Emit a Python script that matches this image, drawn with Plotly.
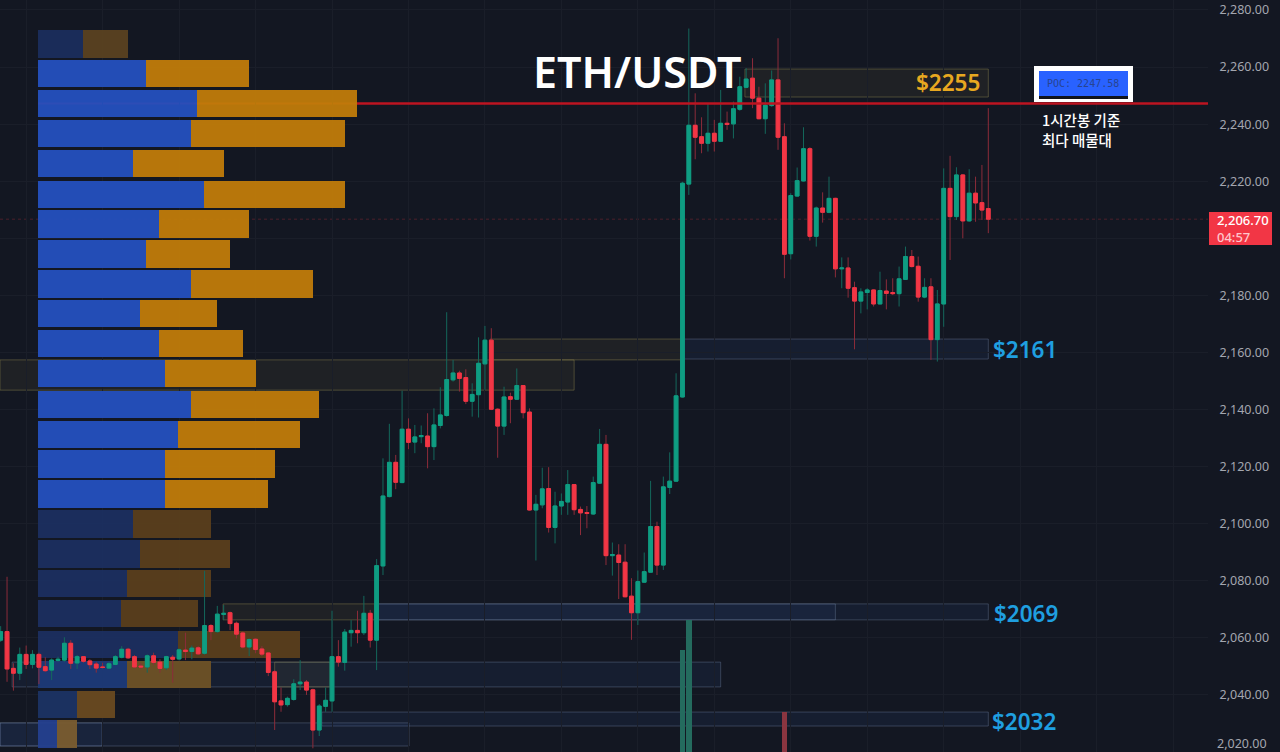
import plotly.graph_objects as go

# 1h candles, oldest first
opens = [2059.2,2062.2,2049.3,2047.6,2054.2,2050.7,2054.2,2049.9,2048.7,2052.1,
         2052.2,2058.1,2051.2,2053.4,2051.9,2050.8,2049.8,2049.4,2050.7,2053.2,
         2056.0,2053.4,2050.1,2049.8,2053.7,2051.5,2049.5,2053.2,2052.6,2055.7,
         2055.2,2056.5,2054.6,2064.3,2062.2,2068.2,2068.8,2065.1,2061.7,2056.8,
         2059.5,2056.1,2054.7,2048.1,2037.9,2036.6,2038.4,2043.9,2044.5,2041.8,
         2027.7,2036.0,2037.9,2053.4,2051.4,2061.8,2062.6,2061.8,2068.6,2059.2,
         2085.2,2109.5,2121.5,2114.4,2133.1,2128.6,2130.5,2130.7,2127.0,2134.4,
         2137.9,2150.4,2152.8,2151.2,2142.9,2145.2,2156.0,2164.3,2140.1,2134.2,
         2144.5,2143.6,2148.4,2139.1,2104.8,2106.6,2112.3,2098.7,2106.2,2107.6,
         2113.7,2105.0,2103.9,2103.4,2114.2,2127.8,2088.8,2089.0,2086.5,2074.6,
         2068.8,2079.5,2083.0,2099.0,2085.5,2112.7,2114.9,2144.4,2219.0,2239.6,
         2235.6,2233.3,2236.8,2234.0,2240.3,2240.1,2245.2,2252.9,2256.1,2249.1,
         2241.9,2246.5,2255.5,2235.6,2194.6,2214.8,2220.1,2231.4,2200.7,2210.6,
         2209.1,2214.0,2189.3,2189.6,2182.7,2178.0,2181.0,2181.9,2177.0,2181.5,
         2181.0,2180.6,2185.6,2193.6,2190.2,2179.4,2183.0,2164.5,2177.0,2217.5,
         2207.6,2222.2,2206.1,2215.8,2212.5,2210.4]
highs = [2064.1,2081.4,2051.1,2056.6,2057.3,2055.7,2054.8,2053.2,2052.8,2053.4,
         2060.2,2059.2,2054.0,2053.6,2052.5,2051.6,2051.3,2051.6,2054.0,2057.1,
         2056.5,2054.0,2051.1,2054.2,2054.8,2052.5,2053.7,2054.0,2056.3,2061.8,
         2057.3,2057.1,2083.5,2064.8,2071.2,2071.5,2069.2,2065.7,2062.2,2059.8,
         2059.8,2057.1,2054.9,2048.7,2042.6,2039.4,2045.5,2052.2,2045.2,2042.2,
         2036.8,2042.6,2069.5,2059.2,2063.1,2066.2,2069.5,2074.7,2069.8,2087.6,
         2122.9,2135.0,2124.1,2146.6,2136.9,2134.6,2134.4,2138.7,2140.4,2147.8,
         2174.1,2157.4,2153.6,2154.1,2149.2,2165.3,2169.3,2168.5,2140.4,2148.0,
         2145.9,2154.4,2148.6,2140.4,2110.1,2119.6,2119.8,2111.2,2110.6,2118.8,
         2113.9,2106.0,2106.2,2116.5,2133.2,2131.1,2093.4,2092.8,2092.8,2080.9,
         2083.6,2089.9,2115.0,2100.7,2116.5,2125.0,2152.7,2219.8,2273.5,2250.8,
         2242.4,2247.1,2241.5,2252.0,2244.4,2247.9,2256.6,2259.6,2263.1,2253.1,
         2254.3,2258.8,2270.1,2240.3,2215.8,2224.8,2238.9,2231.9,2211.1,2216.1,
         2221.6,2214.2,2193.3,2193.3,2184.8,2182.5,2182.5,2182.1,2188.3,2185.6,
         2186.0,2190.1,2197.1,2195.9,2193.6,2186.0,2186.0,2181.9,2224.5,2228.9,
         2224.9,2222.5,2224.2,2221.6,2225.7,2245.6]
lows = [2058.6,2044.6,2041.5,2045.2,2049.1,2049.3,2043.8,2048.1,2045.2,2051.6,
        2051.6,2049.1,2049.1,2051.3,2049.1,2047.8,2049.3,2049.2,2050.4,2052.8,
        2052.6,2049.3,2049.1,2047.8,2050.5,2047.8,2048.7,2044.3,2052.1,2052.2,
        2052.5,2054.0,2054.1,2059.2,2061.8,2066.2,2062.7,2059.8,2056.3,2053.6,
        2054.6,2053.6,2046.6,2027.7,2034.1,2035.9,2038.0,2041.7,2040.0,2021.3,
        2025.6,2034.1,2034.1,2049.9,2048.5,2056.9,2058.1,2061.0,2056.6,2048.7,
        2082.0,2109.2,2112.1,2114.2,2126.1,2124.7,2128.2,2119.4,2122.3,2133.4,
        2137.5,2149.8,2146.3,2141.9,2137.5,2137.2,2146.9,2139.8,2123.1,2131.1,
        2135.2,2143.4,2136.9,2104.6,2087.1,2105.4,2096.9,2093.1,2103.1,2103.1,
        2103.1,2096.0,2098.4,2103.1,2113.9,2085.5,2081.8,2073.6,2074.2,2059.3,
        2064.5,2079.3,2082.9,2082.0,2083.8,2110.4,2114.6,2144.2,2215.2,2227.7,
        2229.8,2230.4,2230.4,2233.9,2238.0,2235.0,2244.7,2252.6,2245.6,2241.7,
        2236.6,2246.1,2231.0,2186.0,2192.6,2214.6,2219.9,2199.2,2197.1,2205.5,
        2208.8,2186.3,2182.5,2179.2,2161.1,2173.7,2175.1,2176.1,2176.9,2175.1,
        2180.1,2176.1,2185.4,2189.8,2177.8,2179.0,2157.4,2156.8,2169.0,2192.4,
        2206.4,2200.0,2205.8,2205.8,2206.4,2201.8]
closes = [2062.2,2049.1,2047.6,2054.2,2050.7,2054.2,2049.7,2048.5,2052.2,2052.5,
          2058.1,2051.1,2053.4,2051.8,2050.6,2049.4,2049.6,2050.9,2053.4,2056.0,
          2053.0,2049.8,2049.8,2053.7,2051.4,2049.3,2053.4,2052.5,2055.8,2055.2,
          2056.4,2054.4,2064.3,2062.2,2068.3,2068.6,2065.0,2061.3,2056.8,2059.4,
          2055.9,2054.3,2047.9,2037.6,2036.5,2038.8,2043.9,2044.5,2041.7,2027.7,
          2036.1,2038.1,2053.4,2051.5,2062.0,2062.6,2061.8,2068.6,2059.2,2085.3,
          2109.7,2121.5,2114.5,2133.1,2128.5,2130.4,2130.9,2127.0,2134.6,2138.1,
          2150.5,2152.8,2150.9,2142.9,2145.3,2156.2,2164.3,2140.1,2134.2,2144.4,
          2143.6,2148.4,2138.9,2104.8,2106.8,2112.2,2098.7,2106.2,2107.8,2113.7,
          2104.9,2103.8,2103.6,2114.4,2127.8,2088.8,2089.2,2086.4,2074.4,2068.8,
          2079.7,2083.2,2099.0,2085.5,2112.9,2114.9,2144.8,2219.3,2239.6,2235.4,
          2233.3,2236.8,2234.0,2240.3,2239.9,2245.4,2253.1,2255.8,2249.1,2241.9,
          2246.6,2255.5,2235.4,2194.4,2215.0,2220.2,2231.4,2200.7,2210.6,2209.1,
          2214.0,2189.3,2189.6,2182.5,2178.0,2181.2,2181.9,2177.0,2181.7,2180.7,
          2180.6,2185.8,2193.6,2190.1,2179.4,2182.8,2164.5,2177.0,2217.5,2207.6,
          2222.2,2206.1,2215.8,2212.4,2209.9,2206.7]
candle_idx = list(range(len(opens)))

# volume profile rows, top to bottom
row_price = [2268.1,2257.6,2247.1,2236.6,2226.1,2215.5,2205.0,2194.5,2184.0,2173.5,2163.0,2152.5,
             2141.9,2131.4,2120.9,2110.4,2099.9,2089.4,2078.9,2068.4,2057.8,2047.3,2036.8,2026.3]
buy_vol = [45,108,159,153,95,166,121,108,153,102,121,127,153,140,127,127,95,102,89,83,140,89,39,19]
sell_vol = [45,103,160,154,91,141,90,84,122,77,84,91,128,122,110,103,78,90,84,77,122,84,38,20]
buy_col = ["#1b2e5c"]+["#2450be"]*15+["#1c2f60"]*4+["#1c2f60","#1d3a78","#1c3364","#24408f"]
sell_col = ["#5a4220"]+["#c07c0a"]*15+["#5a3f1c"]*4+["#5a3f1c","#6e5226","#6a4a20","#7a5c30"]

# zones: first bar, last bar, top, bottom
zone_start = [116.8,-0.1,76.8,107.1,34.9,58.7,58.7,1.8,43.0,50.4,-0.1,-0.1]
zone_end = [155,90,107.1,155,58.7,155,131,113,51.7,155,64.1,15.9]
zone_top = [2259.3,2157.4,2164.7,2164.7,2071.9,2071.9,2071.9,2051.5,2051.5,2034.0,2030.2,2030.2]
zone_bot = [2249.5,2146.8,2157.4,2157.7,2066.3,2066.3,2066.3,2042.8,2042.8,2029.1,2022.1,2022.1]
zone_kind = ["o","o","o","b","o","b","b","b","o","b","b","b"]

poc_price = 2247.2
last_price = 2206.7

# the few volume bars tall enough to show
vol_idx = [107,108,123]
vol_val = [102,132,40]
vol_col = ["#246b5e","#246b5e","#8a3540"]

y_ticks = list(range(2040,2281,20))

BG = "#131722"
GRID = "#1a1e29"
UP = "#0f9d82"
DOWN = "#f23645"
W = 1280
H = 752

body_hi = [max(a,b) for a,b in zip(opens,closes)]
body_lo = [min(a,b) for a,b in zip(opens,closes)]

fig = go.Figure()
fig.add_trace(go.Bar(y=row_price, x=buy_vol, orientation="h", width=9.5,
                     marker=dict(color=buy_col, line=dict(width=0)), opacity=0.95))
fig.add_trace(go.Bar(y=row_price, x=sell_vol, orientation="h", width=9.5,
                     marker=dict(color=sell_col, line=dict(width=0)), opacity=0.95))
fig.add_trace(go.Bar(x=vol_idx, y=vol_val, xaxis="x2", yaxis="y2", width=0.86,
                     marker=dict(color=vol_col, line=dict(width=0))))
# wicks are dimmer than the bodies, so two candle traces
fig.add_trace(go.Candlestick(x=candle_idx, open=opens, high=highs, low=lows, close=closes,
                             xaxis="x2", yaxis="y", whiskerwidth=0,
                             increasing=dict(line=dict(color="#14685c", width=1), fillcolor="rgba(0,0,0,0)"),
                             decreasing=dict(line=dict(color="#8c2c3a", width=1), fillcolor="rgba(0,0,0,0)")))
fig.add_trace(go.Candlestick(x=candle_idx, open=opens, high=body_hi, low=body_lo, close=closes,
                             xaxis="x2", yaxis="y", whiskerwidth=0,
                             increasing=dict(line=dict(color=UP, width=1), fillcolor=UP),
                             decreasing=dict(line=dict(color=DOWN, width=1), fillcolor=DOWN)))

for i in range(len(zone_start)):
    if zone_kind[i] == "o":
        fill = "rgba(140,130,70,0.1)"
        edge = "rgba(150,140,80,0.42)"
    else:
        fill = "rgba(60,110,200,0.085)"
        edge = "rgba(125,145,175,0.34)"
    fig.add_shape(type="rect", xref="x2", yref="y", x0=zone_start[i], x1=zone_end[i],
                  y0=zone_bot[i], y1=zone_top[i], fillcolor=fill, line=dict(color=edge, width=1),
                  layer="below")

fig.add_shape(type="line", xref="x", yref="y", x0=0, x1=buy_vol[2]+sell_vol[2], y0=poc_price, y1=poc_price,
              line=dict(color="#d81f2c", width=2), layer="below")
fig.add_shape(type="line", xref="x", yref="y", x0=buy_vol[2]+sell_vol[2], x1=1170, y0=poc_price, y1=poc_price,
              line=dict(color="#bd1421", width=2.5))
fig.add_shape(type="line", xref="x", yref="y", x0=-38, x1=1170, y0=last_price, y1=last_price,
              line=dict(color="rgba(242,54,69,0.25)", width=1, dash="dot"), layer="below")


def paper_rect(x0, y0, x1, y1, color):
    fig.add_shape(type="rect", xref="paper", yref="paper", x0=x0/W, x1=x1/W, y0=1-y1/H, y1=1-y0/H,
                  fillcolor=color, line=dict(width=0))


def label(x, y, text, size, color, anchor="center", family="Noto Sans", weight=400):
    fig.add_annotation(xref="paper", yref="paper", x=x/W, y=1-y/H, text=text, showarrow=False,
                       xanchor=anchor, yanchor="middle", align=anchor, borderpad=0, borderwidth=0,
                       font=dict(size=size, color=color, family=family, weight=weight))


paper_rect(1034, 66, 1133, 102, "#ffffff")
paper_rect(1039, 71, 1128, 99, "#10131c")
paper_rect(1039, 71, 1128, 96, "#2962ff")
paper_rect(1209, 212, 1272, 245, DOWN)

label(637, 72, "ETH/USDT", 43, "#ffffff", weight=600)
label(948, 83, "$2255", 22.5, "#e8a820", weight=600)
label(1025, 349, "$2161", 22.5, "#1f9fe0", weight=600)
label(1026, 613, "$2069", 22.5, "#1f9fe0", weight=600)
label(1024, 721, "$2032", 22.5, "#1f9fe0", weight=600)
label(1083, 84, "POC: 2247.58", 10, "#28448f", family="DejaVu Sans Mono")
label(1042, 120, "1시간봉 기준", 14.5, "#ffffff", anchor="left", family="Noto Sans CJK KR", weight=500)
label(1042, 139, "최다 매물대", 14.5, "#ffffff", anchor="left", family="Noto Sans CJK KR", weight=500)
label(1217, 228, "2,206.70<br><span style='color:#ffc6cc'>04:57</span>", 13, "#ffffff", anchor="left", weight=500)
label(1217, 743, "2,020.00", 12.5, "#a3a6af", anchor="left")

fig.update_layout(
    width=W, height=H, margin=dict(l=0, r=0, t=0, b=0),
    paper_bgcolor=BG, plot_bgcolor=BG, showlegend=False, barmode="stack", boxgap=0.16,
    xaxis=dict(domain=[0, 1208/W], range=[-38, 1170], showticklabels=False, showgrid=False,
               zeroline=False, fixedrange=True),
    xaxis2=dict(overlaying="x", anchor="y", range=[-0.105, 189.48], showticklabels=False,
                tick0=16, dtick=12, gridcolor=GRID, showgrid=True, zeroline=False,
                rangeslider=dict(visible=False), fixedrange=True),
    # the 2,200 label sits behind the price tag in the original, so it stays blank
    yaxis=dict(range=[2020, 2283.5], side="right", tickvals=y_ticks,
               ticktext=["" if v == 2200 else f"{v:,.2f}" for v in y_ticks], gridcolor=GRID, zeroline=False,
               ticks="outside", ticklen=8, tickcolor=BG, tickfont=dict(size=12.5, color="#a3a6af", family="Noto Sans")),
    yaxis2=dict(overlaying="y", anchor="x2", range=[0, 752], visible=False),
)

fig.write_html("out.html", config=dict(displayModeBar=False),
               post_script="document.body.style.margin='0';document.body.style.overflow='hidden';")
